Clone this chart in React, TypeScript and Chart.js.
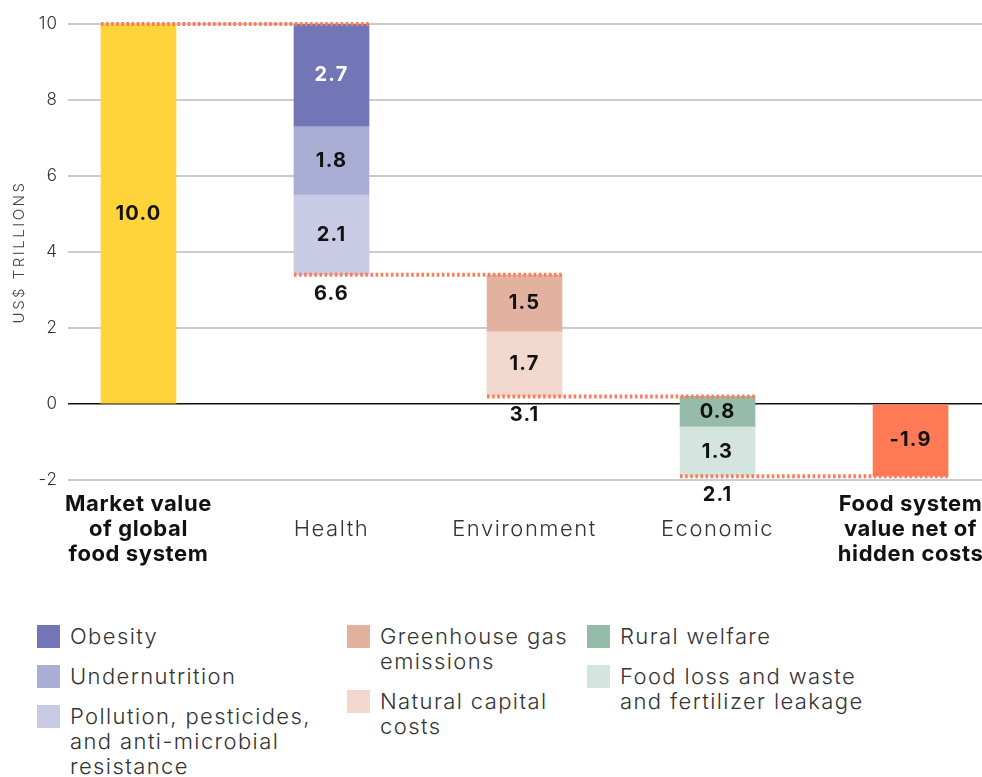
import React, { useEffect, useRef } from 'react';
import { Chart, registerables } from 'chart.js';
Chart.register(...registerables);

// ---- data ----
const categoryLabels: string[][] = [
  ['Market value', 'of global', 'food system'],
  ['Health'],
  ['Environment'],
  ['Economic'],
  ['Food system', 'value net of', 'hidden costs'],
];
const boldCategories = [true, false, false, false, true];
const marketValue = 10.0;
const healthValues = [2.7, 1.8, 2.1];
const environmentValues = [1.5, 1.7];
const economicValues = [0.8, 1.3];
const netValue = -1.9;
const groupTotals = [6.6, 3.1, 2.1];
const healthNames = ['Obesity', 'Undernutrition', 'Pollution, pesticides,\nand anti-microbial\nresistance'];
const environmentNames = ['Greenhouse gas\nemissions', 'Natural capital\ncosts'];
const economicNames = ['Rural welfare', 'Food loss and waste\nand fertilizer leakage'];
const yTickValues = [-2, 0, 2, 4, 6, 8, 10];
const yAxisTitle = 'US$ TRILLIONS';

// ---- styles ----
const healthColors = ['#7276B6', '#AAADD4', '#C9CAE3'];
const environmentColors = ['#E2B1A0', '#F2D7CF'];
const economicColors = ['#96BBAA', '#D4E4DE'];
const marketColor = '#FFD43A';
const netColor = '#FF7A55';
const FONT = 'Inter, "Noto Sans", sans-serif';
const BAR_W = 75;

type Seg = { x: number; lo: number; hi: number; color: string; label: string; white?: boolean };

function buildSegments() {
  const segs: Seg[] = [];
  segs.push({ x: 0, lo: 0, hi: marketValue, color: marketColor, label: marketValue.toFixed(1) });
  const groups = [healthValues, environmentValues, economicValues];
  const colors = [healthColors, environmentColors, economicColors];
  let level = marketValue;
  const levels = [marketValue];
  groups.forEach((vals, g) => {
    vals.forEach((v, k) => {
      const hi = level;
      const lo = level - v;
      segs.push({ x: g + 1, lo, hi, color: colors[g][k], label: v.toFixed(1), white: g === 0 && k === 0 });
      level = lo;
    });
    levels.push(level);
  });
  segs.push({ x: 4, lo: netValue, hi: 0, color: netColor, label: netValue.toFixed(1) });
  return { segs, levels };
}

export default function App() {
  const ref = useRef<HTMLCanvasElement | null>(null);
  useEffect(() => {
    document.body.style.margin = '0';
    const { segs, levels } = buildSegments();
    const overlay = {
      id: 'overlay',
      beforeDraw(chart: any) {
        (chart.ctx as any).letterSpacing = '1px';
      },
      afterDatasetsDraw(chart: any) {
        const ctx = chart.ctx;
        const xs = chart.scales.x;
        const ys = chart.scales.y;
        // connectors
        ctx.save();
        ctx.strokeStyle = netColor;
        ctx.lineWidth = 4;
        ctx.setLineDash([2.5, 2.6]);
        for (let i = 0; i < levels.length; i++) {
          const y = ys.getPixelForValue(levels[i]);
          const x1 = xs.getPixelForValue(i) - BAR_W / 2;
          const x2 = xs.getPixelForValue(i + 1) + BAR_W / 2;
          ctx.beginPath();
          ctx.moveTo(x1, y);
          ctx.lineTo(x2, y);
          ctx.stroke();
        }
        ctx.restore();
        // value labels
        ctx.save();
        (ctx as any).letterSpacing = '1.2px';
        ctx.font = `bold 20px ${FONT}`;
        ctx.textAlign = 'center';
        ctx.textBaseline = 'middle';
        segs.forEach((s) => {
          ctx.fillStyle = s.white ? '#ffffff' : '#111111';
          ctx.fillText(s.label, xs.getPixelForValue(s.x), ys.getPixelForValue((s.lo + s.hi) / 2));
        });
        groupTotals.forEach((t, i) => {
          ctx.fillStyle = '#111111';
          ctx.fillText(t.toFixed(1), xs.getPixelForValue(i + 1), ys.getPixelForValue(levels[i + 1]) + 19);
        });
        ctx.restore();
      },
      afterDraw(chart: any) {
        const ctx = chart.ctx;
        const xs = chart.scales.x;
        // category labels
        ctx.save();
        ctx.textAlign = 'center';
        ctx.textBaseline = 'middle';
        categoryLabels.forEach((lines, i) => {
          const bold = boldCategories[i];
          ctx.font = `${bold ? 'bold' : '300'} 22px ${FONT}`;
          (ctx as any).letterSpacing = bold ? '0.6px' : '1.5px';
          ctx.fillStyle = bold ? '#111111' : '#333333';
          const cx = xs.getPixelForValue(i);
          lines.forEach((ln, k) => {
            ctx.fillText(ln, cx, 529 + (k - (lines.length - 1) / 2) * 25);
          });
        });
        ctx.restore();
        // y title
        ctx.save();
        ctx.translate(19, (chart.chartArea.top + chart.chartArea.bottom) / 2);
        ctx.rotate(-Math.PI / 2);
        (ctx as any).letterSpacing = '2.5px';
        ctx.font = `300 15px ${FONT}`;
        ctx.fillStyle = '#444444';
        ctx.textAlign = 'center';
        ctx.textBaseline = 'middle';
        ctx.fillText(yAxisTitle, 0, 0);
        ctx.restore();
      },
    };
    const chart = new Chart(ref.current as HTMLCanvasElement, {
      type: 'bar',
      data: {
        datasets: [
          {
            data: segs.map((s) => ({ x: s.x, y: [s.lo, s.hi] })) as any,
            backgroundColor: segs.map((s) => s.color),
            borderWidth: 0,
            barThickness: BAR_W,
            grouped: false,
          } as any,
        ],
      },
      options: {
        responsive: false,
        animation: false,
        layout: { padding: { top: 24, left: 0, right: 0, bottom: 0 } },
        plugins: { legend: { display: false }, tooltip: { enabled: false } },
        scales: {
          x: {
            type: 'linear',
            offset: false,
            min: -0.365,
            max: 4.37,
            grid: { display: false },
            border: { display: false },
            afterBuildTicks: (scale: any) => {
              scale.ticks = categoryLabels.map((_, i) => ({ value: i }));
            },
            afterFit: (scale: any) => {
              scale.height = 110;
              scale.paddingLeft = 0;
              scale.paddingRight = 0;
            },
            ticks: { display: false },
          } as any,
          y: {
            min: -2,
            max: 10,
            afterBuildTicks: (scale: any) => {
              scale.ticks = yTickValues.map((v) => ({ value: v }));
            },
            afterFit: (scale: any) => {
              scale.width = 68;
              scale.paddingTop = 0;
              scale.paddingBottom = 0;
            },
            border: { display: false },
            grid: {
              drawTicks: false,
              color: (c: any) => (c.tick && c.tick.value === 0 ? '#111111' : '#cccccc'),
              lineWidth: (c: any) => (c.tick && c.tick.value === 0 ? 1.6 : 2),
            },
            ticks: {
              padding: 10,
              color: '#333333',
              font: { family: FONT, size: 17, weight: '300' },
            },
          } as any,
        },
      },
      plugins: [overlay],
    });
    return () => chart.destroy();
  }, []);

  const legendCols: { names: string[]; colors: string[]; left: number }[] = [
    { names: healthNames, colors: healthColors, left: 37 },
    { names: environmentNames, colors: environmentColors, left: 347 },
    { names: economicNames, colors: economicColors, left: 587 },
  ];

  return (
    <div style={{ position: 'absolute', left: 0, top: 0, width: 982, height: 777, background: '#fff' }}>
      <canvas ref={ref} width={982} height={590} style={{ display: 'block' }} />
      {legendCols.map((col, ci) => (
        <div
          key={ci}
          style={{
            position: 'absolute',
            left: col.left,
            top: 624,
            display: 'flex',
            flexDirection: 'column',
            gap: 15,
          }}
        >
          {col.names.map((n, i) => (
            <div key={i} style={{ display: 'flex', alignItems: 'flex-start' }}>
              <div style={{ width: 23, height: 23, background: col.colors[i], marginTop: 1, flex: 'none' }} />
              <div
                style={{
                  marginLeft: 10,
                  whiteSpace: 'pre',
                  fontFamily: FONT,
                  fontWeight: 300,
                  fontSize: 22,
                  letterSpacing: '1.4px',
                  lineHeight: '25px',
                  color: '#333',
                }}
              >
                {n}
              </div>
            </div>
          ))}
        </div>
      ))}
    </div>
  );
}
